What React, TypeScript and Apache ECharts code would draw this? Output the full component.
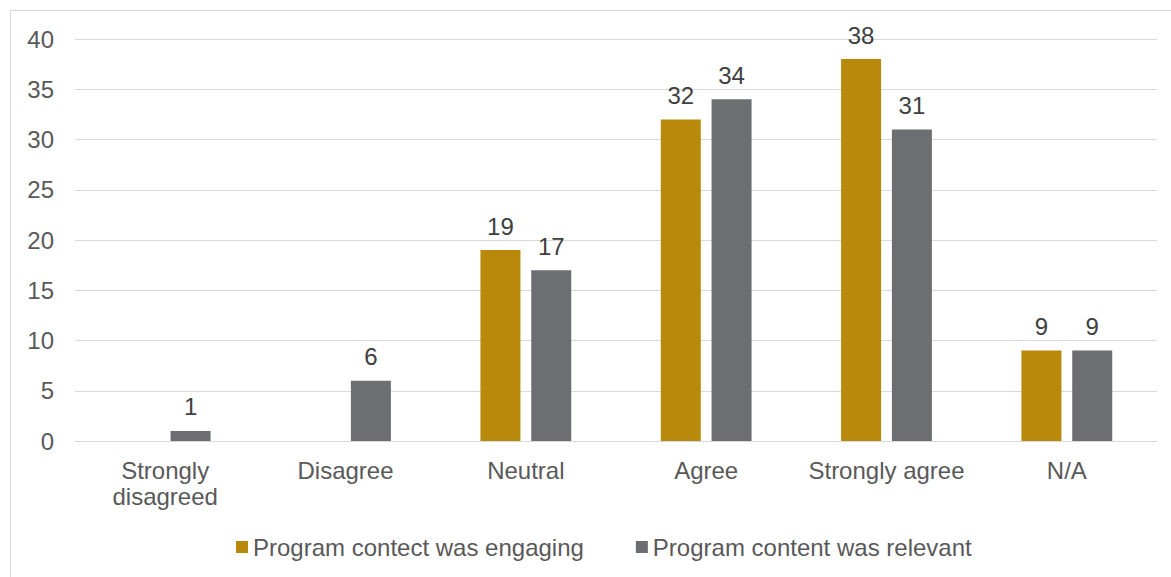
import React, { useEffect, useRef } from "react";
import * as echarts from "echarts";

const categories = ["Strongly\ndisagreed", "Disagree", "Neutral", "Agree", "Strongly agree", "N/A"];
const engaging: (number | null)[] = [null, null, 19, 32, 38, 9];
const relevant: number[] = [1, 6, 17, 34, 31, 9];
const seriesNames = ["Program contect was engaging", "Program content was relevant"];
const yTicks = { min: 0, max: 40, interval: 5 };

export default function App() {
  const ref = useRef<HTMLDivElement>(null);
  useEffect(() => {
    if (!ref.current) return;
    const chart = echarts.init(ref.current, undefined, { renderer: "svg" });
    const font = "Arial, 'Liberation Sans', sans-serif";
    const txt = "#595959";
    const fs = 24;
    chart.setOption({
      animation: false,
      backgroundColor: "#fff",
      textStyle: { fontFamily: font },
      graphic: [
        {
          type: "rect",
          shape: { x: 10.5, y: 10.5, width: 1200, height: 600 },
          style: { fill: "none", stroke: "#D9D9D9", lineWidth: 1 },
          silent: true,
        },
      ],
      grid: { left: 75, right: 14, top: 39, bottom: 136, containLabel: false },
      legend: {
        bottom: 13,
        left: 231,
        itemWidth: 12,
        itemHeight: 12,
        itemGap: 52,
        icon: "rect",
        textStyle: { color: txt, fontSize: fs, fontFamily: font },
        data: seriesNames,
      },
      xAxis: {
        type: "category",
        data: categories,
        axisLine: { show: true, lineStyle: { color: "#D9D9D9", width: 1 } },
        axisTick: { show: false },
        axisLabel: { color: txt, fontSize: fs, lineHeight: 26, margin: 16, fontFamily: font, interval: 0 },
      },
      yAxis: {
        type: "value",
        min: yTicks.min,
        max: yTicks.max,
        interval: yTicks.interval,
        axisLine: { show: false },
        axisTick: { show: false },
        splitLine: { lineStyle: { color: "#D9D9D9", width: 1 } },
        axisLabel: { color: txt, fontSize: fs, margin: 21, fontFamily: font },
      },
      series: [
        {
          name: seriesNames[0],
          type: "bar",
          data: engaging,
          barWidth: 40,
          barGap: "27%",
          itemStyle: { color: "#B8890A" },
          label: { show: true, position: "top", distance: 12, color: "#404040", fontSize: fs, fontFamily: font },
        },
        {
          name: seriesNames[1],
          type: "bar",
          data: relevant,
          barWidth: 40,
          barGap: "27%",
          itemStyle: { color: "#6D6E72" },
          label: { show: true, position: "top", distance: 12, color: "#404040", fontSize: fs, fontFamily: font },
        },
      ],
    });
    return () => chart.dispose();
  }, []);
  return (
    <div
      ref={ref}
      style={{ position: "absolute", left: 0, top: 0, width: 1171, height: 577 }}
    />
  );
}
